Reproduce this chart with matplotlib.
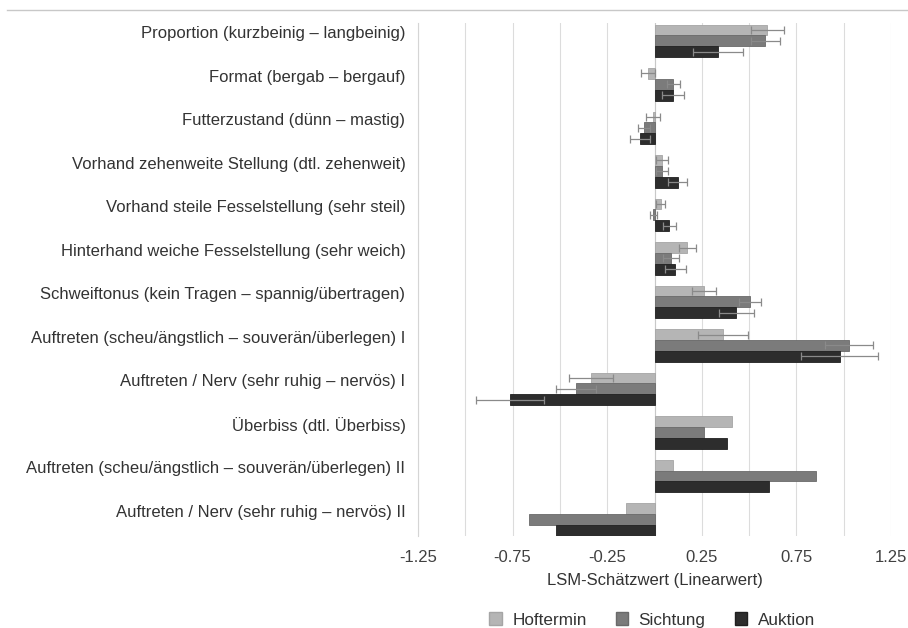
import numpy as np
import matplotlib
matplotlib.use('Agg')
import matplotlib.pyplot as plt
from matplotlib.patches import Patch
from matplotlib.lines import Line2D

plt.rcParams['font.family'] = ['Liberation Sans', 'DejaVu Sans']

# Merkmale (von oben nach unten)
categories = [
    'Proportion (kurzbeinig – langbeinig)',
    'Format (bergab – bergauf)',
    'Futterzustand (dünn – mastig)',
    'Vorhand zehenweite Stellung (dtl. zehenweit)',
    'Vorhand steile Fesselstellung (sehr steil)',
    'Hinterhand weiche Fesselstellung (sehr weich)',
    'Schweiftonus (kein Tragen – spannig/übertragen)',
    'Auftreten (scheu/ängstlich – souverän/überlegen) I',
    'Auftreten / Nerv (sehr ruhig – nervös) I',
    'Überbiss (dtl. Überbiss)',
    'Auftreten (scheu/ängstlich – souverän/überlegen) II',
    'Auftreten / Nerv (sehr ruhig – nervös) II',
]
series_names = ['Hoftermin', 'Sichtung', 'Auktion']

# LSM-Schaetzwerte
hoftermin = [0.596, -0.035, -0.007, 0.039, 0.032, 0.173, 0.261, 0.362, -0.335, 0.411, 0.097, -0.150]
sichtung = [0.585, 0.100, -0.056, 0.039, -0.006, 0.088, 0.506, 1.028, -0.414, 0.261, 0.852, -0.661]
auktion = [0.335, 0.097, -0.079, 0.123, 0.079, 0.109, 0.432, 0.979, -0.762, 0.383, 0.605, -0.520]

# Standardfehler (letzte drei Merkmale ohne Fehlerbalken)
err_hoftermin = [0.088, 0.035, 0.037, 0.032, 0.025, 0.046, 0.062, 0.134, 0.115, 0, 0, 0]
err_sichtung = [0.077, 0.036, 0.032, 0.032, 0.020, 0.044, 0.057, 0.127, 0.106, 0, 0, 0]
err_auktion = [0.133, 0.057, 0.053, 0.050, 0.035, 0.055, 0.093, 0.203, 0.179, 0, 0, 0]

colors = ['#b5b5b5', '#7b7b7b', '#2d2d2d']
edges = ['#a5a5a5', '#6a6a6a', '#202020']

fig = plt.figure(figsize=(9.08, 6.28), dpi=100)
ax = fig.add_axes([418 / 908, 1 - 536 / 628, (891 - 418) / 908, (536 - 23) / 628])

y = np.arange(len(categories))
h = 0.25
vals = [hoftermin, sichtung, auktion]
errs = [err_hoftermin, err_sichtung, err_auktion]
for i in range(3):
    yy = y + (i - 1) * h
    ax.barh(yy, vals[i], height=h, color=colors[i], edgecolor=edges[i], linewidth=0.6,
            zorder=3, label=series_names[i])
    e = np.array(errs[i])
    m = e > 0
    ax.errorbar(np.array(vals[i])[m], yy[m], xerr=e[m], fmt='none', ecolor='#8a8a8a',
                elinewidth=0.9, capsize=3, capthick=0.9, zorder=4)

ax.set_xlim(-1.25, 1.25)
ax.set_ylim(11.38, -0.41)
ax.set_xticks(np.arange(-1.25, 1.26, 0.25))
ax.set_xticklabels(['-1.25', '', '-0.75', '', '-0.25', '', '0.25', '', '0.75', '', '1.25'])
ax.tick_params(axis='x', length=0, labelsize=12, colors='#404040', pad=10)
ax.set_yticks(y - 0.2)
ax.set_yticklabels(categories)
ax.tick_params(axis='y', length=0, labelsize=12, colors='#333333', pad=9)
ax.grid(axis='x', color='#dcdcdc', linewidth=0.8, zorder=0)
for s in ['top', 'right', 'bottom']:
    ax.spines[s].set_visible(False)
ax.spines['left'].set_color('#d5d5d5')
ax.axvline(0, color='#c8c8c8', linewidth=0.8, zorder=2)

ax.set_xlabel('LSM-Schätzwert (Linearwert)', fontsize=12, color='#333333', labelpad=6)

handles = [Patch(facecolor=colors[i], edgecolor=edges[i], label=series_names[i]) for i in range(3)]
fig.legend(handles=handles, loc='center', bbox_to_anchor=(652 / 908, 1 - 620 / 628), ncol=3,
           frameon=False, fontsize=12.3, handlelength=0.75, handleheight=0.75,
           columnspacing=1.7, handletextpad=0.6, labelcolor='#333333')

# Linie am oberen Rand
fig.add_artist(Line2D([7 / 908, 1], [1 - 10 / 628, 1 - 10 / 628], color='#c8c8c8', linewidth=1.0))

fig.savefig('out.png', dpi=100, facecolor='white')
